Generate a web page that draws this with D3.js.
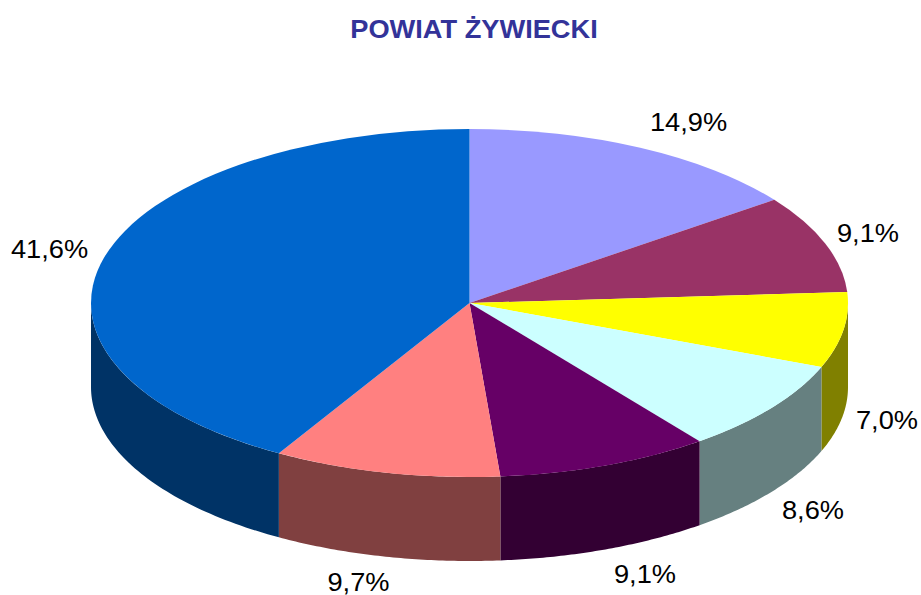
<!DOCTYPE html>
<html>
<head>
<meta charset="utf-8">
<script src="https://cdn.jsdelivr.net/npm/d3@7"></script>
<style>
  html, body { margin: 0; padding: 0; background: #fff; }
  svg { display: block; }
  text { font-family: "Liberation Sans", Arial, sans-serif; }
</style>
</head>
<body>
<div id="chart"></div>
<script>
const chartTitle = 'POWIAT ŻYWIECKI';
const values = [14.9, 9.1, 7.0, 8.6, 9.1, 9.7, 41.6];
const labels = ['14,9%', '9,1%', '7,0%', '8,6%', '9,1%', '9,7%', '41,6%'];
const topColours = ['#9999ff', '#993366', '#ffff00', '#ccffff', '#660066', '#ff8080', '#0066cc'];
const sideColours = ['#4d4d80', '#4d1a33', '#808000', '#668080', '#330033', '#804040', '#003366'];
// label anchor points, centre of each text
const labelX = [688.5, 868, 887, 813, 645, 358.5, 49.5];
const labelY = [122, 233, 420, 510, 574, 582, 249];

const width = 921;
const height = 595;
const cx = 469.5;
const cy = 303;
const rx = 378.5;
const ry = 174;
const depth = 84;
const textStretch = 1.09; // the original text is a bit wider than plain Liberation Sans

const svg = d3.select('#chart').append('svg')
  .attr('width', width)
  .attr('height', height);

const arcs = d3.pie().sort(null).value((d) => d)(values);

// Point on the rim of the tilted disc, angle clockwise from twelve o'clock
const rimX = (a) => cx + rx * Math.sin(a);
const rimY = (a) => cy - ry * Math.cos(a);

// Side walls: only the part of each slice facing the viewer (angles between 90 and 270 deg)
const wallPath = (d) => {
  const from = Math.max(d.startAngle, Math.PI / 2);
  const to = Math.min(d.endAngle, Math.PI * 1.5);
  if (from >= to) return null;
  const steps = d3.range(0, 61).map((i) => from + (to - from) * i / 60);
  const upper = steps.map((a) => [rimX(a), rimY(a)]);
  const lower = steps.slice().reverse().map((a) => [rimX(a), rimY(a) + depth]);
  return d3.line()(upper.concat(lower)) + 'Z';
};

svg.append('g').selectAll('path')
  .data(arcs)
  .join('path')
  .attr('d', wallPath)
  .attr('fill', (d, i) => sideColours[i]);

// Top face: a normal arc squashed into an ellipse
const arcGen = d3.arc().innerRadius(0).outerRadius(rx);

svg.append('g')
  .attr('transform', `translate(${cx},${cy}) scale(1,${ry / rx})`)
  .selectAll('path')
  .data(arcs)
  .join('path')
  .attr('d', arcGen)
  .attr('fill', (d, i) => topColours[i]);

svg.append('g').selectAll('text')
  .data(labels)
  .join('text')
  .attr('transform', (d, i) => `translate(${labelX[i]},${labelY[i]}) scale(${textStretch},1)`)
  .attr('text-anchor', 'middle')
  .attr('dominant-baseline', 'central')
  .attr('font-size', 25)
  .attr('fill', '#000')
  .text((d) => d);

svg.append('text')
  .attr('transform', `translate(474,29) scale(${textStretch},1)`)
  .attr('text-anchor', 'middle')
  .attr('dominant-baseline', 'central')
  .attr('font-size', 25)
  .attr('font-weight', 'bold')
  .attr('fill', '#333399')
  .text(chartTitle);
</script>
</body>
</html>
